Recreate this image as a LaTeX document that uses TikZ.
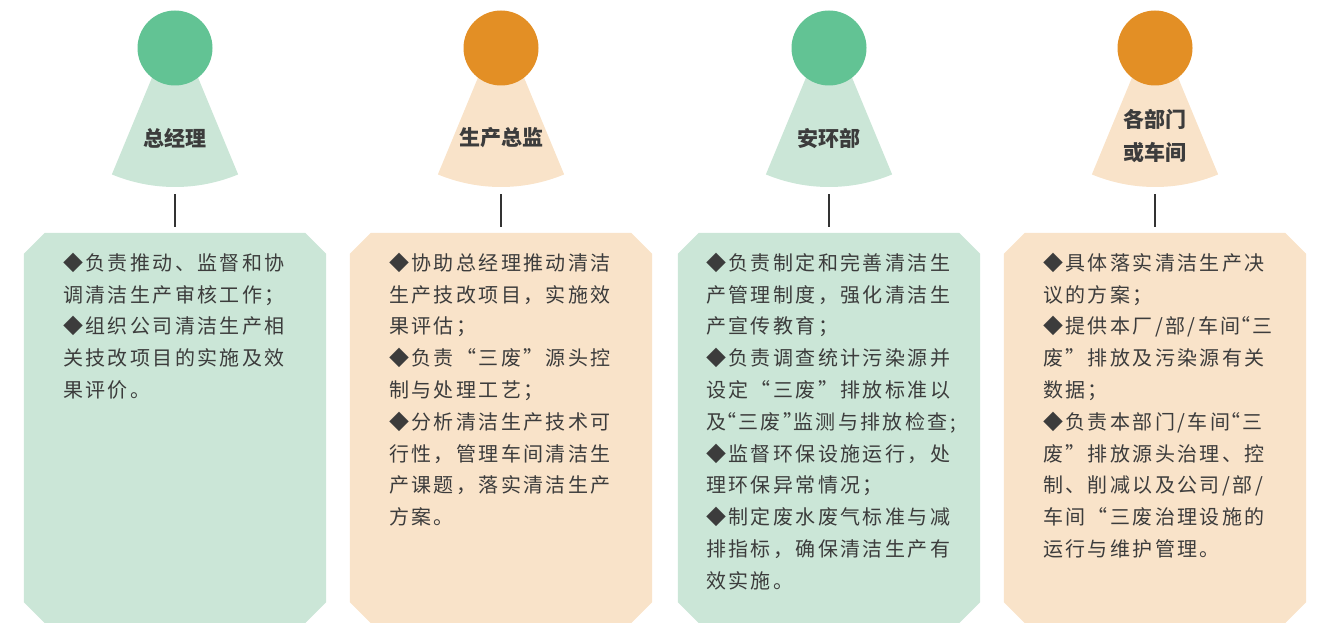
\documentclass[tikz,border=0pt]{standalone}
\usepackage{fontspec}
\newfontfamily\cjk{Noto Sans CJK SC}
\newfontfamily\cjkwide[LetterSpace=12]{Noto Sans CJK SC}
\usetikzlibrary{calc}

\definecolor{leafgreen}{HTML}{62C394}
\definecolor{palegreen}{HTML}{CBE6D7}
\definecolor{amber}{HTML}{E38F25}
\definecolor{paleamber}{HTML}{F9E3C9}
\definecolor{inkgray}{HTML}{3C3C3C}
\definecolor{stemgray}{HTML}{333333}

% Tafel mit abgeschraegten Ecken um einen Knoten
\newcommand{\kantenfeld}[2]{%
	\fill[#2] ($(#1.north west)+(21,0)$) -- ($(#1.north east)+(-21,0)$) -- ($(#1.north east)+(0,21)$)
	-- ($(#1.south east)+(0,-21)$) -- ($(#1.south east)+(-21,0)$) -- ($(#1.south west)+(21,0)$)
	-- ($(#1.south west)+(0,-21)$) -- ($(#1.north west)+(0,21)$) -- cycle;}

\begin{document}
\begin{tikzpicture}[
			x=1pt, y=-1pt,
			dot/.style={circle, inner sep=0pt, minimum size=75pt},
			panel/.style={rectangle, inner sep=0pt, minimum width=302pt, minimum height=390pt},
			role/.style={font=\cjk\bfseries\fontsize{21}{33}\selectfont, text=inkgray, align=center},
			duty/.style={anchor=north west, inner sep=0pt, align=left, text=inkgray, font=\cjkwide\fontsize{20}{31.8}\selectfont},
			stem/.style={draw=stemgray, line width=2pt, shorten <=7pt, shorten >=6pt},
			]
			\useasboundingbox (0,0) rectangle (1319,623);
			
			% Kegel unter den Kreisen
			\fill[palegreen] (175,22) -- ++(112.5:165) arc[start angle=112.5, end angle=67.5, radius=165] -- cycle;
			\fill[paleamber] (501,22) -- ++(112.5:165) arc[start angle=112.5, end angle=67.5, radius=165] -- cycle;
			\fill[palegreen] (829,22) -- ++(112.5:165) arc[start angle=112.5, end angle=67.5, radius=165] -- cycle;
			\fill[paleamber] (1155,22) -- ++(112.5:165) arc[start angle=112.5, end angle=67.5, radius=165] -- cycle;
			\coordinate (zongjingli-fuss) at (175,187);
			\coordinate (shengchan-fuss) at (501,187);
			\coordinate (anhuan-fuss) at (829,187);
			\coordinate (bumen-fuss) at (1155,187);
			
			% Kreise und Rollen
			\node[dot, fill=leafgreen] (zongjingli) at (175,48) {};
			\node[dot, fill=amber] (shengchan) at (501,48) {};
			\node[dot, fill=leafgreen] (anhuan) at (829,48) {};
			\node[dot, fill=amber] (bumen) at (1155,48) {};
			\node[role] (zongjingli-titel) at (175,138) {总经理};
			\node[role] (shengchan-titel) at (501,138) {生产总监};
			\node[role] (anhuan-titel) at (829,138) {安环部};
			\node[role] (bumen-titel) at (1155,136) {各部门\\或车间};
			
			% Tafeln
			\node[panel] (zongjingli-tafel) at (175,428) {};
			\node[panel] (shengchan-tafel) at (501,428) {};
			\node[panel] (anhuan-tafel) at (829,428) {};
			\node[panel] (bumen-tafel) at (1155,428) {};
			\kantenfeld{zongjingli-tafel}{palegreen}
			\kantenfeld{shengchan-tafel}{paleamber}
			\kantenfeld{anhuan-tafel}{palegreen}
			\kantenfeld{bumen-tafel}{paleamber}
			
			\node[duty] (zongjingli-text) at ($(zongjingli-tafel.north)+(-112,20)$) {%
				◆负责推动、监督和协\\
				调清洁生产审核工作；\\
				◆组织公司清洁生产相\\
				关技改项目的实施及效\\
				果评价。};
			\node[duty] (shengchan-text) at ($(shengchan-tafel.north)+(-112,20)$) {%
				◆协助总经理推动清洁\\
				生产技改项目，实施效\\
				果评估；\\
				◆负责“三废”源头控\\
				制与处理工艺；\\
				◆分析清洁生产技术可\\
				行性，管理车间清洁生\\
				产课题，落实清洁生产\\
				方案。};
			\node[duty] (anhuan-text) at ($(anhuan-tafel.north)+(-123,20)$) {%
				◆负责制定和完善清洁生\\
				产管理制度，强化清洁生\\
				产宣传教育；\\
				◆负责调查统计污染源并\\
				设定“三废”排放标准以\\
				及\kern-10pt“三废”\kern-10pt监测与排放检查;\\
				◆监督环保设施运行，处\\
				理环保异常情况；\\
				◆制定废水废气标准与减\\
				排指标，确保清洁生产有\\
				效实施。};
			\node[duty] (bumen-text) at ($(bumen-tafel.north)+(-112,20)$) {%
				◆具体落实清洁生产决\\
				议的方案；\\
				◆提供本厂/部/车间\kern-10pt“三\\
				废”排放及污染源有关\\
				数据；\\
				◆负责本部门/车间\kern-10pt“三\\
				废”排放源头治理、控\\
				制、削减以及公司/部/\\
				车间“三废治理设施的\\
				运行与维护管理。};
			
			% Verbindungen
			\draw[stem] (zongjingli-fuss) -- (zongjingli-tafel);
			\draw[stem] (shengchan-fuss) -- (shengchan-tafel);
			\draw[stem] (anhuan-fuss) -- (anhuan-tafel);
			\draw[stem] (bumen-fuss) -- (bumen-tafel);
			
		\end{tikzpicture}
\end{document}
